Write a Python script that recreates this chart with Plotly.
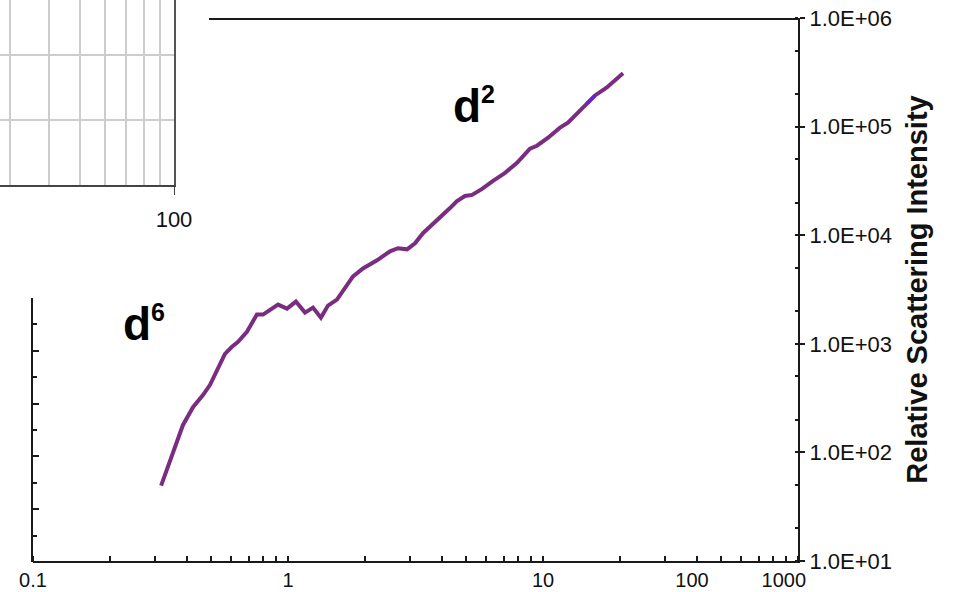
import plotly.graph_objects as go

# Particle size (x) and relative scattering intensity (y)
size = [0.318, 0.354, 0.387, 0.424, 0.464, 0.494, 0.527, 0.566, 0.603, 0.637,
        0.690, 0.755, 0.798, 0.849, 0.914, 0.991, 1.074, 1.166, 1.253, 1.346,
        1.435, 1.556, 1.643, 1.799, 1.968, 2.234, 2.512, 2.698, 2.931, 3.148,
        3.383, 3.704, 4.055, 4.318, 4.600, 4.943, 5.27, 5.77, 6.37, 7.10,
        7.91, 8.89, 9.47, 10.47, 11.66, 12.53, 13.59, 14.89, 16.0, 17.8, 20.6]
intensity = [49.4, 100, 178, 261, 337, 417, 574, 807, 938, 1044,
             1291, 1857, 1857, 2065, 2296, 2109, 2449, 1936, 2154, 1742,
             2249, 2553, 3030, 4169, 4945, 5872, 7112, 7586, 7413, 8435,
             10440, 12650, 15310, 17780, 20650, 22960, 23500, 26670, 31620, 37500,
             46420, 62520, 66680, 79070, 97900, 108900, 131900, 163300, 193600, 229600, 309600]
highlight = slice(47, 49)

x_tick_vals = [0.1, 1, 10, 38.4, 88]
x_tick_text = ["0.1", "1", "10", "100", "1000"]
x_minor_vals = [m * 10 ** e for e in (-1, 0, 1) for m in range(1, 11)]
y_tick_vals = [1e1, 1e2, 1e3, 1e4, 1e5, 1e6]
y_tick_text = ["1.0E+01", "1.0E+02", "1.0E+03", "1.0E+04", "1.0E+05", "1.0E+06"]
y_title = "Relative Scattering Intensity"

inset_grid_vals = [30, 40, 50, 60, 70, 80, 90]
inset_tick_vals = [100]
inset_tick_text = ["100"]

W, H = 955, 592
AX = "#1a1a1a"
LINE = "#7a2d80"
FONT = "Liberation Sans, Arial, sans-serif"
CLEAR = "rgba(0,0,0,0)"


def fx(p):
    return p / W


def fy(p):
    return 1 - p / H


fig = go.Figure()
fig.add_trace(go.Scatter(x=size, y=intensity, mode="lines",
                         line=dict(color=LINE, width=4), showlegend=False))
fig.add_trace(go.Scatter(x=size[highlight], y=intensity[highlight], mode="lines",
                         line=dict(color="#6a22d6", width=3.5), showlegend=False))
# empty traces so the inset and side-axis subplots are created
fig.add_trace(go.Scatter(x=[], y=[], xaxis="x2", yaxis="y2", showlegend=False))
fig.add_trace(go.Scatter(x=[], y=[], xaxis="x3", yaxis="y3", showlegend=False))

fig.update_layout(
    width=W, height=H,
    margin=dict(l=0, r=0, t=0, b=0),
    paper_bgcolor="white", plot_bgcolor=CLEAR,
    font=dict(family=FONT, color="#111"),
    showlegend=False,
    xaxis=dict(
        type="log", range=[-1, 2], domain=[fx(33), fx(798)], anchor="y",
        showline=True, linecolor=AX, linewidth=2, showgrid=False, zeroline=False,
        tickmode="array", tickvals=x_tick_vals, ticktext=x_tick_text, ticks="",
        tickfont=dict(size=20, color="#111"), automargin=False,
        minor=dict(tickmode="array", tickvals=x_minor_vals, ticks="inside",
                   ticklen=5, tickwidth=1.5, tickcolor=AX, showgrid=False),
    ),
    yaxis=dict(
        type="log", range=[1, 6], domain=[fy(561), fy(18)], anchor="x", side="right",
        showline=True, linecolor=AX, linewidth=2, showgrid=False, zeroline=False,
        tickmode="array", tickvals=y_tick_vals, ticktext=y_tick_text,
        ticks="outside", ticklen=5, tickcolor=AX, tickwidth=1.5,
        tickfont=dict(size=22, color="#111"), automargin=False,
        minor=dict(ticks="inside", ticklen=3, tickcolor=AX, showgrid=False),
        title=dict(text=f"<b>{y_title}</b>", font=dict(size=29, color="#111"), standoff=16),
    ),
    xaxis2=dict(
        type="log", range=[1.444, 2], domain=[0, fx(174)], anchor="y2",
        showline=True, linecolor="#444", linewidth=1.5, zeroline=False,
        showgrid=False, tickmode="array", tickvals=inset_tick_vals, ticktext=inset_tick_text,
        ticks="outside", ticklen=8, tickcolor="#444", tickfont=dict(size=22, color="#111"),
        ticklabelstandoff=6, automargin=False,
        minor=dict(tickmode="array", tickvals=inset_grid_vals, ticks="",
                   showgrid=True, gridcolor="#cdcdcd", gridwidth=1.5),
    ),
    yaxis2=dict(
        range=[0, 185 / 65], domain=[fy(185), 1], anchor="x2", side="right",
        showline=True, linecolor="#555", linewidth=1.5, zeroline=False,
        showgrid=True, gridcolor="#cdcdcd", gridwidth=1.5, dtick=1, tick0=0,
        showticklabels=False, ticks="", automargin=False,
    ),
    xaxis3=dict(domain=[fx(33), fx(35)], anchor="y3", visible=False, range=[0, 1]),
    yaxis3=dict(
        range=[0, 10], domain=[fy(562), fy(298)], anchor="x3", side="left",
        showline=True, linecolor=AX, linewidth=2, zeroline=False, showgrid=False,
        tickmode="linear", tick0=0, dtick=2, ticks="inside", ticklen=6,
        tickcolor=AX, tickwidth=1.5, showticklabels=False, automargin=False,
        minor=dict(dtick=1, ticks="inside", ticklen=4, tickcolor=AX, showgrid=False),
    ),
    shapes=[dict(type="line", xref="paper", yref="paper",
                 x0=fx(209), x1=fx(798), y0=fy(19), y1=fy(19),
                 line=dict(color=AX, width=2))],
    annotations=[
        dict(text="<b>d</b><sup><b><span style='font-size:25px'>2</span></b></sup>",
             xref="paper", yref="paper", x=fx(451), y=fy(106), xanchor="left", yanchor="middle",
             showarrow=False, font=dict(size=46, color="black", family=FONT)),
        dict(text="<b>d</b><sup><b><span style='font-size:25px'>6</span></b></sup>",
             xref="paper", yref="paper", x=fx(121), y=fy(324), xanchor="left", yanchor="middle",
             showarrow=False, font=dict(size=46, color="black", family=FONT)),
    ],
)

fig.write_html("out.html")
